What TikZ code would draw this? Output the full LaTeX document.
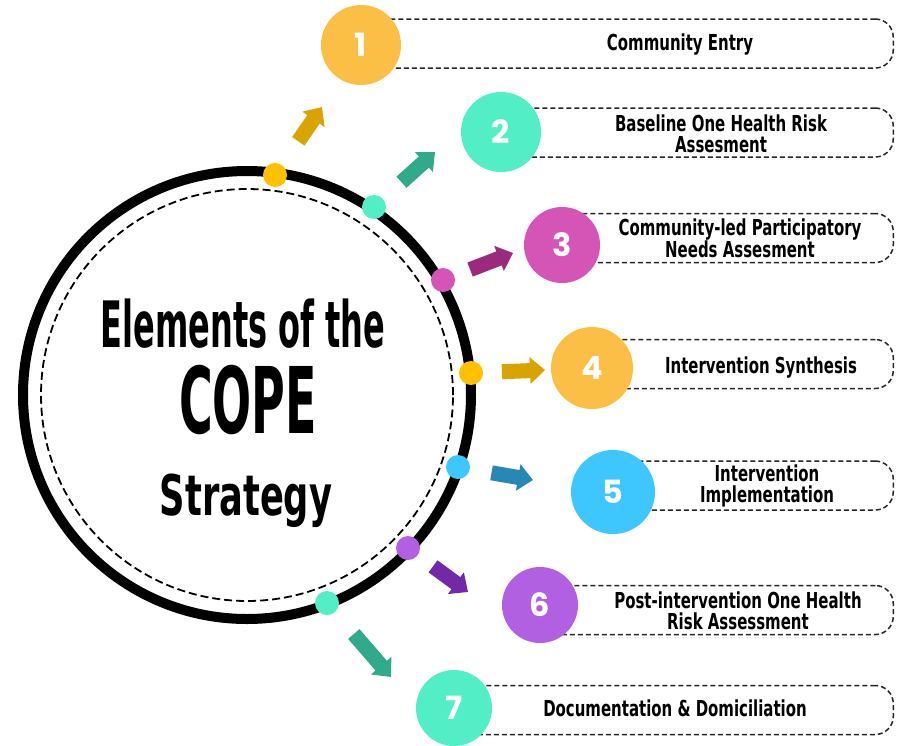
\documentclass[tikz,border=0pt]{standalone}
\usepackage{fontspec}
\setmainfont{DejaVu Sans}
\newfontfamily\titlefont{DejaVu Sans}[FakeStretch=0.5]
\newfontfamily\stratfont{DejaVu Sans}[FakeStretch=0.63]
\newfontfamily\stepfont{DejaVu Sans}[FakeStretch=0.68]
\newfontfamily\numfont{Poppins}
\usetikzlibrary{arrows.meta,positioning,calc}
\definecolor{numGold}{HTML}{FBBF45}
\definecolor{numMint}{HTML}{52EEC6}
\definecolor{numPink}{HTML}{D455B5}
\definecolor{numSky}{HTML}{3EC6FF}
\definecolor{numLilac}{HTML}{B060E0}
\definecolor{dotGold}{HTML}{FFC000}
\definecolor{arrGold}{HTML}{D9A300}
\definecolor{arrTeal}{HTML}{31A98B}
\definecolor{arrPlum}{HTML}{9C2A7C}
\definecolor{arrBlue}{HTML}{2788B5}
\definecolor{arrPurple}{HTML}{7328A8}

\begin{document}
\begin{tikzpicture}
[x=1pt,y=-1pt,
ring/.style={line width=10pt},
inring/.style={line width=1.8pt,dash pattern=on 8pt off 4pt},
ringdot/.style={circle,inner sep=0pt,minimum size=24pt},
num/.style={circle,inner sep=0pt,minimum size=80pt,text=white,
  font=\numfont\bfseries\fontsize{32}{32}\selectfont},
stepbox/.style={draw=black!85,line width=1.5pt,dash pattern=on 5pt off 3pt,
  rounded corners=18pt,minimum height=49pt,inner sep=0pt,anchor=east},
steptext/.style={align=center,font=\stepfont\bfseries\fontsize{22}{21}\selectfont},
blockarrow/.style={line width=15pt,-{Triangle[width=26pt,length=15pt]}}]
\useasboundingbox (0,0) rectangle (897,745);
%%
% main ring
%%
\coordinate (c) at (247,395);
\draw[ring] (c) circle[radius=224pt];
\draw[inring] (c) circle[radius=206pt];
\node[anchor=base,font=\titlefont\bfseries\fontsize{64}{64}\selectfont] (ttl1) at (243,347) {Elements of the};
\node[anchor=base,font=\titlefont\bfseries\fontsize{92}{92}\selectfont] (ttl2) at (248,433) {COPE};
\node[anchor=base,font=\stratfont\bfseries\fontsize{56}{56}\selectfont] (ttl3) at (246,515) {Strategy};
%%
% step boxes
%%
\node[stepbox,minimum width=533pt] (box1) at (894,43.5) {};
\node[stepbox,minimum width=393pt] (box2) at (894,132.5) {};
\node[stepbox,minimum width=332pt] (box3) at (894,238) {};
\node[stepbox,minimum width=302pt] (box4) at (894,364) {};
\node[stepbox,minimum width=281pt] (box5) at (894,485.5) {};
\node[stepbox,minimum width=354pt] (box6) at (894,610) {};
\node[stepbox,minimum width=440pt] (box7) at (894,710) {};
%%
% numbers
%%
\node[num,fill=numGold] (n1) at (361,45) {1};
\node[num,fill=numMint] (n2) at (501,132) {2};
\node[num,fill=numPink,minimum size=76pt] (n3) at (562,245) {3};
\node[num,fill=numGold,minimum size=82pt] (n4) at (592,368) {4};
\node[num,fill=numSky,minimum size=84pt] (n5) at (613,492) {5};
\node[num,fill=numLilac,minimum size=76pt] (n6) at (540,605) {6};
\node[num,fill=numMint,minimum size=76pt] (n7) at (454,708) {7};
%%
% step labels
%%
\node[steptext] (s1) at (680,45) {Community Entry};
\node[steptext] (s2) at (721,134) {Baseline One Health Risk\\Assesment};
\node[steptext] (s3) at (740,238.5) {Community-led Participatory\\Needs Assesment};
\node[steptext] (s4) at (761,368) {Intervention Synthesis};
\node[steptext] (s5) at (767,486) {Intervention\\Implementation};
\node[steptext] (s6) at (738,611) {Post-intervention One Health\\Risk Assessment};
\node[steptext] (s7) at (675,708) {Documentation \& Domiciliation};
%%
% dots on the ring
%%
\node[ringdot,fill=dotGold] (d1) at (275,175) {};
\node[ringdot,fill=numMint] (d2) at (374,207) {};
\node[ringdot,fill=numPink] (d3) at (443,280) {};
\node[ringdot,fill=dotGold] (d4) at (471,373) {};
\node[ringdot,fill=numSky] (d5) at (458,467) {};
\node[ringdot,fill=numLilac] (d6) at (408,548) {};
\node[ringdot,fill=numMint] (d7) at (327,603) {};
%%
% arrows
%%
\coordinate (tip1) at (322,107);
\coordinate (tip2) at (435,152);
\coordinate (tip3) at (513,253);
\coordinate (tip4) at (545,370);
\coordinate (tip5) at (533,480);
\coordinate (tip6) at (468,592);
\coordinate (tip7) at (391,677);
\draw[blockarrow,arrGold,shorten <=41pt] (d1.center) -- (tip1);
\draw[blockarrow,arrTeal,shorten <=37pt] (d2.center) -- (tip2);
\draw[blockarrow,arrPlum,shorten <=29pt] (d3.center) -- (tip3);
\draw[blockarrow,arrGold,shorten <=31pt] (d4.center) -- (tip4);
\draw[blockarrow,arrBlue,shorten <=34pt] (d5.center) -- (tip5);
\draw[blockarrow,arrPurple,shorten <=31pt] (d6.center) -- (tip6);
\draw[blockarrow,arrTeal,shorten <=41pt] (d7.center) -- (tip7);
\end{tikzpicture}
\end{document}
